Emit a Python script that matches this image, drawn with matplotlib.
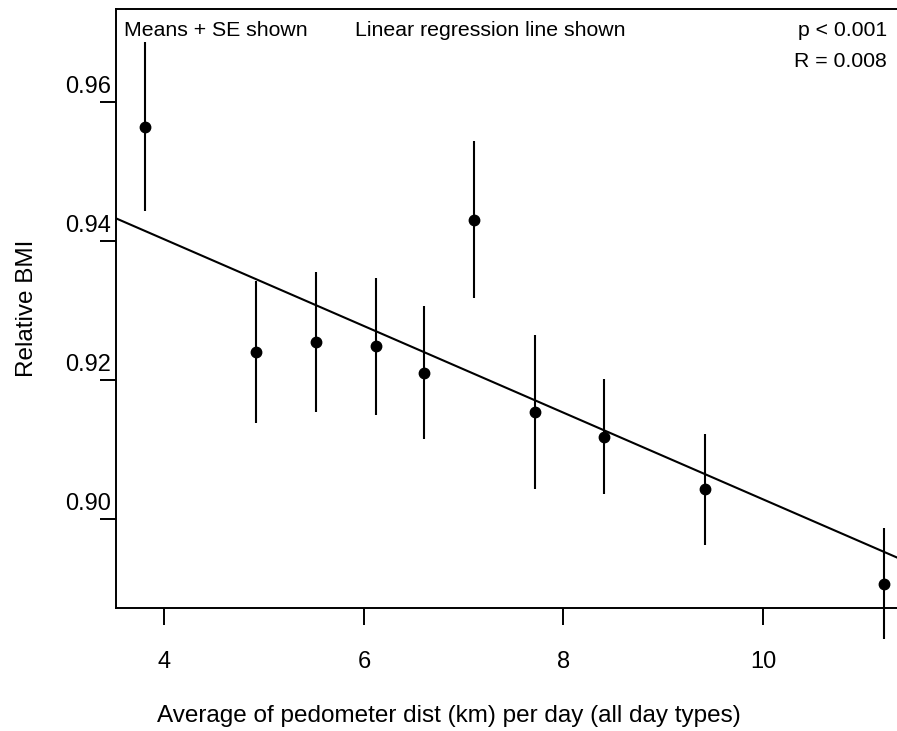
import matplotlib
matplotlib.use("Agg")
import matplotlib.pyplot as plt
from matplotlib.transforms import ScaledTranslation

plt.rcParams['font.family'] = ['Liberation Sans', 'DejaVu Sans']

# means and standard errors
dist_km = [3.81, 4.92, 5.52, 6.12, 6.60, 7.10, 7.71, 8.41, 9.42, 11.21]
rel_bmi = [0.9565, 0.9240, 0.9254, 0.9248, 0.9210, 0.9431, 0.9153, 0.9118, 0.9042, 0.8906]
se = [0.0122, 0.0102, 0.0101, 0.0099, 0.0096, 0.0113, 0.0111, 0.0083, 0.0080, 0.0080]

# fitted regression line
intercept = 0.96523
slope = -0.006247

xticks = [4, 6, 8, 10]
yticks = [0.90, 0.92, 0.94, 0.96]
ytick_labels = ["0.90", "0.92", "0.94", "0.96"]

fig = plt.figure(figsize=(8.97, 7.31), dpi=100)
ax = fig.add_axes([116 / 897, 1 - 608 / 731, 781 / 897, 598.7 / 731])

ax.errorbar(dist_km, rel_bmi, yerr=se, fmt='o', color='black', ms=7.5,
            elinewidth=1.5, capsize=0, clip_on=False, zorder=3)
ax.axline((0, intercept), slope=slope, color='black', lw=1.5)

ax.set_xlim(3.516, 11.342)
ax.set_ylim(0.8871, 0.9734)

ax.spines['right'].set_visible(False)
for s in ['left', 'top', 'bottom']:
    ax.spines[s].set_linewidth(1.4)

ax.set_xticks(xticks)
ax.set_yticks(yticks)
ax.set_yticklabels(ytick_labels)
ax.tick_params(axis='both', labelsize=17, width=1.4, color='black')
ax.tick_params(axis='x', length=12.2, pad=19)
ax.tick_params(axis='y', length=11.5, pad=-7.7)
# R-style: y labels sit above their ticks
for lab in ax.get_yticklabels():
    lab.set_transform(lab.get_transform() + ScaledTranslation(0, 0.173, fig.dpi_scale_trans))

ax.set_ylabel("Relative BMI", fontsize=17.5)
ax.yaxis.set_label_coords(27 / 897, 1 - 308.6 / 731, transform=fig.transFigure)
ax.yaxis.label.set_va('center')
ax.set_xlabel("Average of pedometer dist (km) per day (all day types)", fontsize=17.5)
ax.xaxis.set_label_coords(448.5 / 897, 1 - 716 / 731, transform=fig.transFigure)
ax.xaxis.label.set_va('center')

ax.text(0.0102, 0.9638, "Means + SE shown", transform=ax.transAxes,
        fontsize=15.3, ha='left', va='center')
ax.text(0.306, 0.9638, "Linear regression line shown", transform=ax.transAxes,
        fontsize=15.3, ha='left', va='center')
ax.text(0.9868, 0.9638, "p < 0.001", transform=ax.transAxes,
        fontsize=15.3, ha='right', va='center')
ax.text(0.9868, 0.912, "R = 0.008", transform=ax.transAxes,
        fontsize=15.3, ha='right', va='center')

fig.savefig("out.png", dpi=100)
